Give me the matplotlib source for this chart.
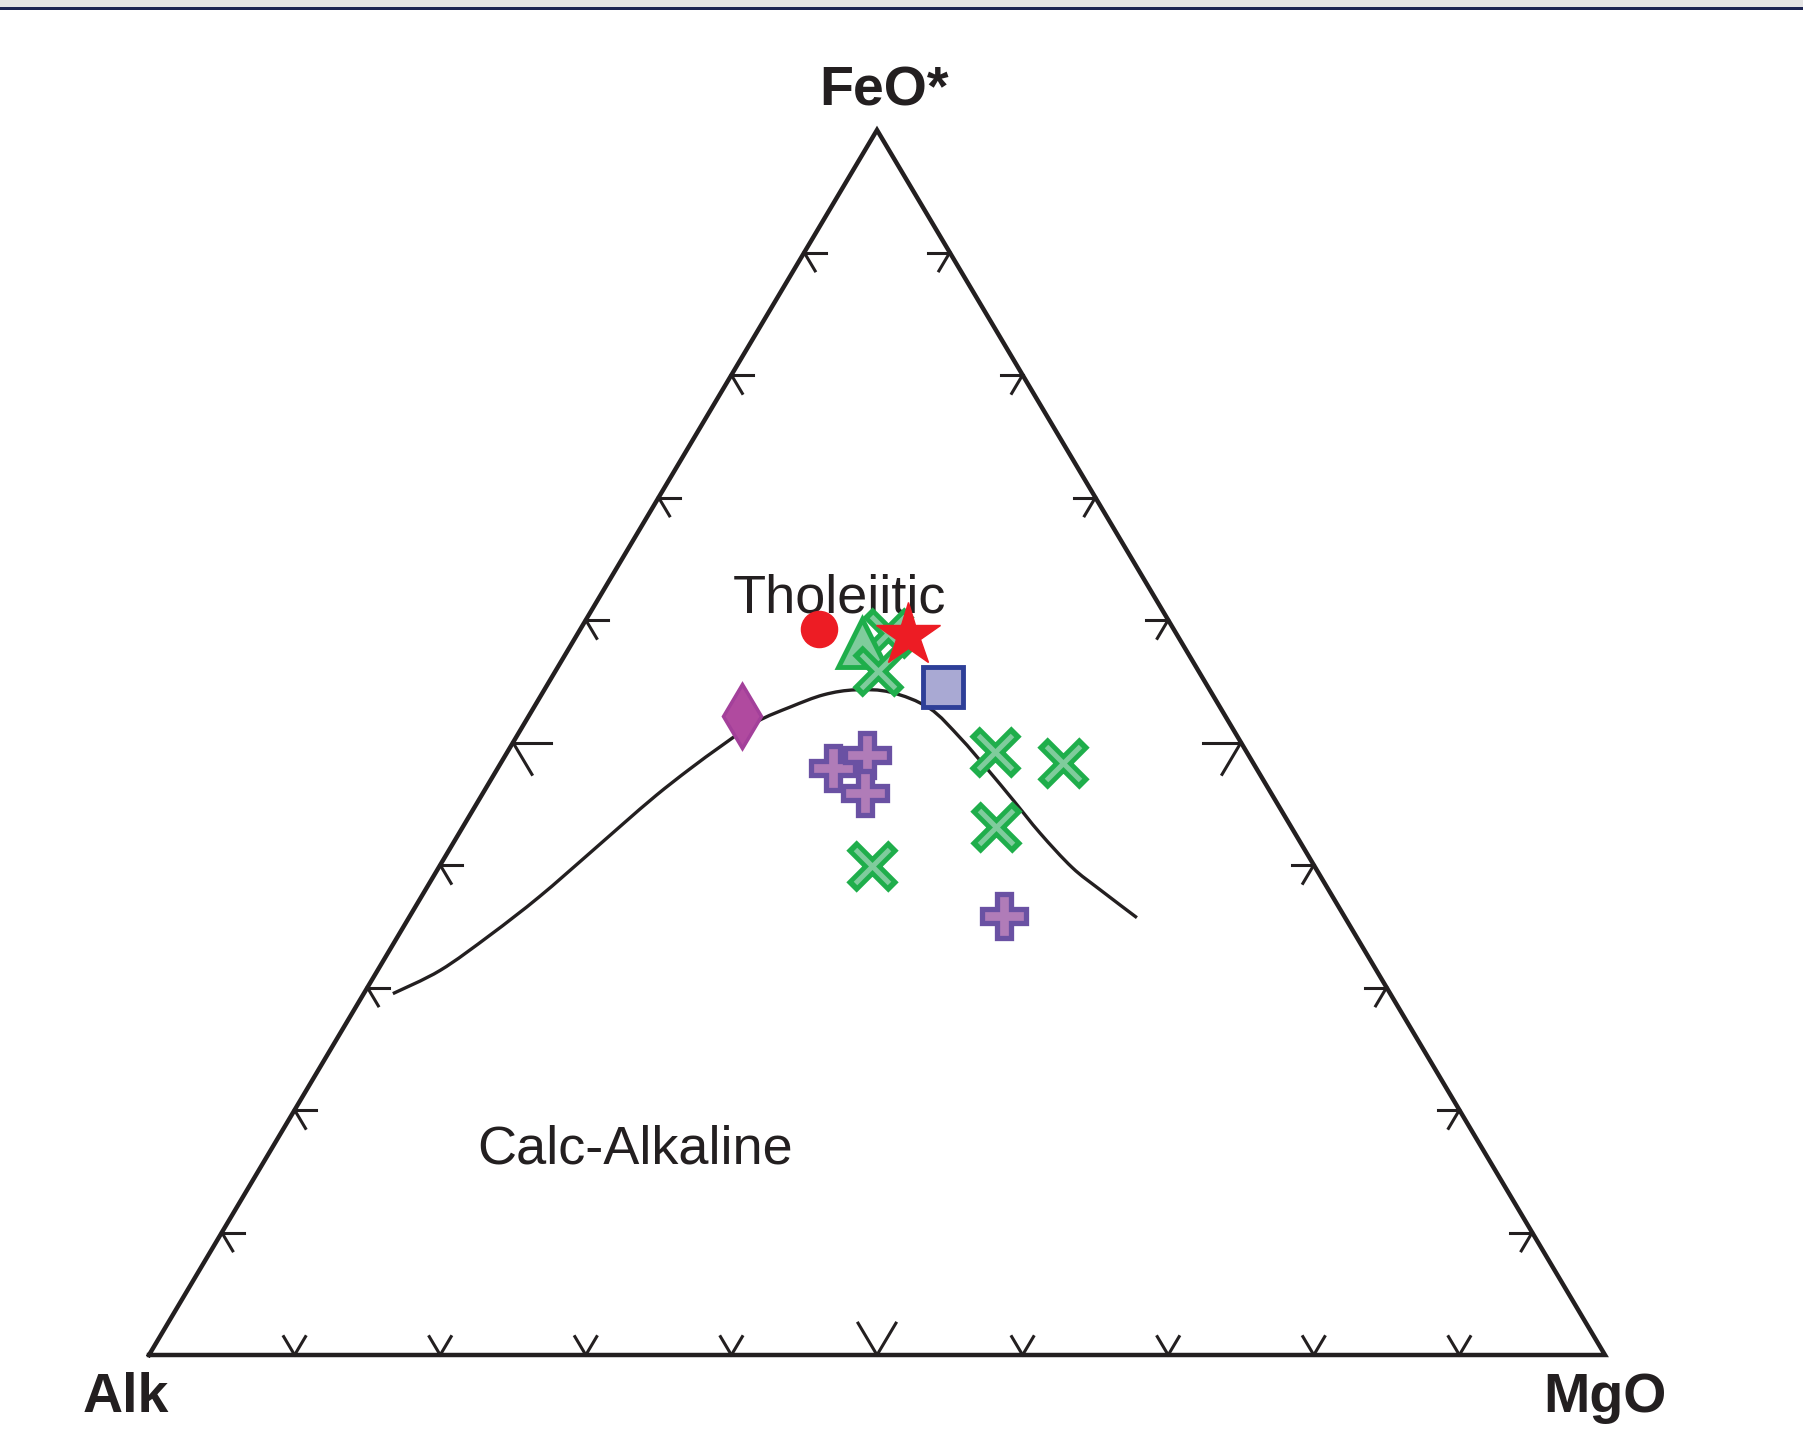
import numpy as np
import matplotlib
matplotlib.use("Agg")
import matplotlib.pyplot as plt
from matplotlib.patches import Rectangle, PathPatch
from matplotlib.path import Path

plt.rcParams['font.family'] = ['Liberation Sans', 'DejaVu Sans']

# =========================
# data (wt% FeO*, MgO; Alk = rest)
# =========================
# Irvine & Baragar tholeiitic / calc-alkaline divide
curve_feo = [29.5, 31.4, 34.3, 37.4, 41.0, 43.4, 45.7, 47.8, 49.8, 51.7, 52.9,
             53.9, 54.3, 54.1, 52.8, 50.4, 47.8, 45.3, 42.6, 39.8, 38.0, 35.7]
curve_mgo = [2.0, 4.3, 6.3, 8.1, 9.8, 10.9, 12.0, 13.2, 14.5, 15.9, 17.6,
             19.4, 21.4, 23.9, 27.2, 30.5, 33.7, 36.7, 39.9, 43.5, 46.3, 50.0]

x_feo = [58.9, 55.8, 49.2, 48.3, 43.1, 39.9]
x_mgo = [21.3, 22.2, 33.5, 38.6, 36.6, 29.7]

plus_feo = [47.9, 49.0, 45.9, 35.8]
plus_mgo = [23.0, 24.8, 26.2, 40.8]

circle_feo, circle_mgo = [59.3], [16.4]
tri_feo, tri_mgo = [58.1], [19.9]
star_feo, star_mgo = [58.8], [22.7]
square_feo, square_mgo = [54.5], [27.3]
diamond_feo, diamond_mgo = [52.2], [14.6]

tick_vals = [10, 20, 30, 40, 50, 60, 70, 80, 90]


def to_xy(feo, mgo):
    f = np.asarray(feo, dtype=float) / 100.0
    m = np.asarray(mgo, dtype=float) / 100.0
    return m + f / 2.0, f


def smooth_path(x, y):
    # bezier through the read points (catmull-rom control points)
    pts = np.column_stack([x, y])
    verts = [pts[0]]
    codes = [Path.MOVETO]
    n = len(pts)
    for i in range(n - 1):
        p0 = pts[max(i - 1, 0)]
        p1 = pts[i]
        p2 = pts[i + 1]
        p3 = pts[min(i + 2, n - 1)]
        verts += [p1 + (p2 - p0) / 6.0, p2 - (p3 - p1) / 6.0, p2]
        codes += [Path.CURVE4] * 3
    return Path(verts, codes)


# =========================
# figure
# =========================
fig = plt.figure(figsize=(18.03, 14.39), dpi=100)
fig.patches.append(Rectangle((0, 1 - 7 / 1439), 1, 7 / 1439, transform=fig.transFigure,
                             facecolor='#e4e4e4', edgecolor='none'))
fig.patches.append(Rectangle((0, 1 - 10 / 1439), 1, 3 / 1439, transform=fig.transFigure,
                             facecolor='#1c2452', edgecolor='none'))

ax = fig.add_axes([149 / 1803, 84 / 1439, 1456 / 1803, 1225 / 1439])
ax.set_xlim(0, 1)
ax.set_ylim(0, 1)
ax.axis('off')

ink = '#231f20'

# triangle frame
tx, ty = to_xy([0, 0, 100, 0], [0, 100, 0, 0])
ax.plot(tx, ty, color=ink, lw=3.2, solid_joinstyle='miter', clip_on=False, zorder=3)

# ticks (arms parallel to the other two sides)
for v in tick_vals:
    L = 2.6 if v == 50 else 1.5
    # bottom side: MgO = v, FeO = 0
    for df, dm in [(L, 0), (L, -L)]:
        xs, ys = to_xy([0, df], [v, v + dm])
        ax.plot(xs, ys, color=ink, lw=2.2, clip_on=False, zorder=3)
    # left side: FeO = v, MgO = 0
    for df, dm in [(0, L), (-L, L)]:
        xs, ys = to_xy([v, v + df], [0, dm])
        ax.plot(xs, ys, color=ink, lw=2.2, clip_on=False, zorder=3)
    # right side: FeO = v, Alk = 0
    for df, dm in [(0, -L), (-L, 0)]:
        xs, ys = to_xy([v, v + df], [100 - v, 100 - v + dm])
        ax.plot(xs, ys, color=ink, lw=2.2, clip_on=False, zorder=3)

# divide
cx, cy = to_xy(curve_feo, curve_mgo)
ax.add_patch(PathPatch(smooth_path(cx, cy), facecolor='none', edgecolor=ink,
                       lw=2.4, zorder=2))

# samples
green, green_fill = '#1fae4b', '#7fcc9c'
purple, purple_fill = '#6a51a3', '#b07cb8'

px, py = to_xy(plus_feo, plus_mgo)
ax.plot(px, py, 'P', ms=31, mfc=purple_fill, mec=purple, mew=3.8, ls='none', zorder=4)

# green crosses: thick dark x with a thin light x on top
xx, xy = to_xy(x_feo, x_mgo)
for i in range(len(xx)):
    z = 4 if i == 0 else 6
    ax.plot(xx[i], xy[i], 'x', ms=30, mew=10.5, color=green, ls='none', zorder=z)
    ax.plot(xx[i], xy[i], 'x', ms=25, mew=3.6, color=green_fill, ls='none', zorder=z)

x0, y0 = to_xy(tri_feo, tri_mgo)
ax.plot(x0, y0, '^', ms=34, mfc=green_fill, mec=green, mew=3.5, ls='none', zorder=5)

x0, y0 = to_xy(star_feo, star_mgo)
ax.plot(x0, y0, '*', ms=48, mfc='#ed1c24', mec='#ed1c24', mew=1, ls='none', zorder=7)

x0, y0 = to_xy(circle_feo, circle_mgo)
ax.plot(x0, y0, 'o', ms=26, mfc='#ed1c24', mec='#ed1c24', mew=1, ls='none', zorder=5)

x0, y0 = to_xy(square_feo, square_mgo)
ax.plot(x0, y0, 's', ms=29, mfc='#a9a9d3', mec='#2e3f98', mew=3.5, ls='none', zorder=5)

x0, y0 = to_xy(diamond_feo, diamond_mgo)
ax.plot(x0, y0, 'd', ms=33, mfc='#b04a9f', mec='#a3409a', mew=2.5, ls='none', zorder=5)

# labels
ax.text(0.5048, 1.0204, 'FeO*', fontsize=40, fontweight='bold', color=ink,
        ha='center', va='baseline', clip_on=False)
ax.text(-0.0158, -0.0465, 'Alk', fontsize=40, fontweight='bold', color=ink,
        ha='center', va='baseline', clip_on=False)
ax.text(1.0, -0.0465, 'MgO', fontsize=40, fontweight='bold', color=ink,
        ha='center', va='baseline', clip_on=False)
ax.text(0.4739, 0.6065, 'Tholeiitic', fontsize=39, color=ink,
        ha='center', va='baseline', zorder=1)
ax.text(0.3338, 0.156, 'Calc-Alkaline', fontsize=39, color=ink,
        ha='center', va='baseline', zorder=1)

plt.savefig('out.png', dpi=100)
